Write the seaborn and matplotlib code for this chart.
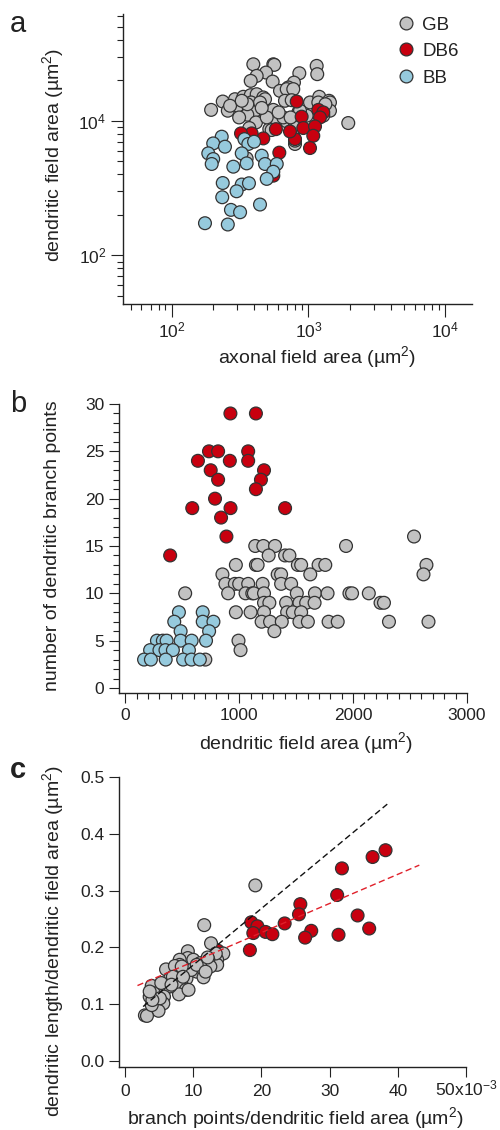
import numpy as np
import pandas as pd
import matplotlib
matplotlib.use("Agg")
import matplotlib.pyplot as plt
import seaborn as sns
from matplotlib.ticker import LogLocator, MultipleLocator, NullFormatter, LogFormatterMathtext, FixedLocator, FixedFormatter

# ---------------- data ----------------
cell_types = ["GB", "DB6", "BB"]
colors = {"GB": "#c2c2c2", "DB6": "#c8000f", "BB": "#96cadd"}

# panel a: axonal field area vs dendritic field area (log-log)
gb_a_axon = [395, 553, 562, 1148, 1159, 857, 489, 418, 378, 547, 783, 712, 619, 693, 774, 236, 194, 257,
             304, 290, 334, 378, 391, 418, 467, 481, 380, 367, 406, 357, 311, 489, 553, 673, 754, 1026,
             1199, 1413, 1436, 1436, 842, 970, 673, 693, 553, 413, 369, 517, 538, 797, 1954, 783, 495,
             442, 357, 654, 267, 325, 353, 867, 1283, 820, 797, 455, 605, 740, 1180, 1330]
gb_a_dend = [69000, 69000, 67600, 65300, 49200, 50800, 52000, 46400, 39100, 38200, 36900, 31200, 27800,
             29500, 29500, 19300, 14500, 14100, 16700, 20900, 22700, 24000, 17600, 24800, 22200, 20900,
             18700, 14900, 14100, 12300, 11200, 12600, 14500, 19800, 20200, 18700, 22700, 19800, 18700,
             14100, 13300, 11900, 10300, 9770, 10000, 9440, 7800, 7530, 7280, 4520, 9250, 10000, 11200,
             18700, 17600, 11200, 16700, 19800, 2760, 14100, 11900, 7960, 5060, 15500, 13300, 11200,
             18700, 17600]
db6_a_axon = [820, 891, 1180, 1283, 1213, 916, 1116, 1084, 1026, 797, 732, 578, 467, 384, 321, 612, 553]
db6_a_dend = [19300, 11500, 14500, 13300, 11200, 7800, 8240, 5990, 3935, 5340, 6950, 7510, 5470, 6490,
              6490, 3360, 1530]
bb_a_axon = [232, 201, 245, 185, 201, 196, 282, 340, 363, 400, 325, 353, 455, 481, 586, 553, 495, 236,
             325, 367, 298, 234, 442, 271, 316, 175, 257]
bb_a_dend = [5800, 4610, 4120, 3280, 2700, 2280, 2080, 5340, 4520, 4890, 3280, 2330, 3030, 2280, 2280,
             1750, 1370, 1190, 1130, 1180, 897, 731, 570, 475, 438, 301, 288]

# panel b: dendritic field area vs number of branch points
gb_b_area = [2535, 1938, 1141, 1212, 1315, 1259, 1403, 1441, 971, 1147, 1162, 1515, 1544, 1697, 1756,
             2644, 853, 1338, 1368, 1624, 2618, 879, 962, 1000, 1079, 1206, 1368, 1456, 903, 526, 1056,
             1115, 1129, 1218, 1506, 1665, 1776, 1968, 1991, 2138, 1218, 1265, 1412, 1529, 1588, 1662,
             2241, 2271, 971, 1100, 1218, 1421, 1471, 1544, 1197, 1271, 1374, 1529, 1603, 1785, 1865,
             2315, 2662, 1309, 994, 1012, 703]
gb_b_bp = [16, 15, 15, 15, 15, 14, 14, 14, 13, 13, 13, 13, 13, 13, 13, 13, 12, 12, 12, 12, 12, 11, 11,
           11, 11, 11, 11, 11, 10, 10, 10, 10, 10, 10, 10, 10, 10, 10, 10, 10, 9, 9, 9, 9, 9, 9, 9, 9,
           8, 8, 8, 8, 8, 8, 7, 7, 7, 7, 7, 7, 7, 7, 7, 6, 5, 4, 3]
db6_b_area = [923, 1147, 735, 815, 1079, 638, 918, 1079, 750, 1218, 815, 1191, 1147, 788, 588, 924,
              1403, 841, 888, 394]
db6_b_bp = [29, 29, 25, 25, 25, 24, 24, 24, 23, 23, 22, 22, 21, 20, 19, 19, 19, 18, 16, 14]
bb_b_area = [471, 680, 430, 680, 774, 486, 736, 278, 330, 363, 486, 583, 709, 218, 300, 353, 418, 559,
             165, 225, 355, 508, 581, 655]
bb_b_bp = [8, 8, 7, 7, 7, 6, 6, 5, 5, 5, 5, 5, 5, 4, 4, 4, 4, 4, 3, 3, 3, 3, 3, 3]

# panel c: branch points / area (x1e-3) vs dendritic length / area
db6_c_bpd = [38.2, 36.3, 31.8, 31.1, 25.7, 25.5, 34.1, 23.4, 18.5, 19.4, 18.8, 20.6, 21.6, 27.3, 26.4,
             31.3, 35.8, 18.3, 13.6]
db6_c_len = [0.371, 0.359, 0.339, 0.292, 0.276, 0.258, 0.256, 0.242, 0.244, 0.237, 0.225, 0.227, 0.223,
             0.229, 0.217, 0.222, 0.233, 0.195, 0.194]
gb_c_bpd = [19.1, 11.6, 12.6, 14.4, 13.5, 13.5, 9.2, 9.2, 8.0, 8.0, 10.5, 11.3, 11.5, 10.0, 6.0, 7.3,
            6.6, 8.3, 9.0, 7.5, 8.3, 8.9, 7.9, 5.8, 6.6, 4.7, 3.9, 3.6, 4.2, 5.7, 4.5, 5.6, 4.9, 2.9,
            3.2, 13.3, 12.2, 12.5, 11.0, 9.7, 7.0, 3.9, 5.1, 12.1, 8.3, 10.5, 11.8, 5.3, 6.8, 8.5, 4.0,
            3.6, 9.3]
gb_c_len = [0.309, 0.239, 0.207, 0.189, 0.178, 0.169, 0.193, 0.181, 0.178, 0.169, 0.157, 0.163, 0.147,
            0.178, 0.161, 0.167, 0.145, 0.154, 0.145, 0.135, 0.134, 0.125, 0.117, 0.126, 0.131, 0.131,
            0.132, 0.113, 0.119, 0.113, 0.101, 0.101, 0.088, 0.080, 0.079, 0.189, 0.178, 0.166, 0.172,
            0.160, 0.148, 0.098, 0.110, 0.182, 0.166, 0.169, 0.157, 0.137, 0.134, 0.148, 0.107, 0.122,
            0.125]
# linear fits (slope, intercept) and x-extent
fit_gb = {"slope": 0.00996, "intercept": 0.0692, "x": [2.64, 38.45]}
fit_all = {"slope": 0.005133, "intercept": 0.1232, "x": [1.81, 43.15]}

c_xticks = [0, 10, 20, 30, 40, 50]
c_xticklabels = ["0", "10", "20", "30", "40", "50x10$^{-3}$"]
c_yticks = [0.0, 0.1, 0.2, 0.3, 0.4, 0.5]

# ---------------- style ----------------
sns.set_style("ticks")
plt.rcParams["font.family"] = ["Liberation Sans", "DejaVu Sans"]
plt.rcParams["mathtext.fontset"] = "custom"
plt.rcParams["mathtext.rm"] = "Liberation Sans"
plt.rcParams["mathtext.it"] = "Liberation Sans:italic"
plt.rcParams["mathtext.bf"] = "Liberation Sans:bold"
plt.rcParams["mathtext.default"] = "regular"
ink = "#222222"
plt.rcParams["text.color"] = ink
plt.rcParams["axes.labelcolor"] = ink
plt.rcParams["xtick.color"] = ink
plt.rcParams["ytick.color"] = ink

FS = 12.5     # tick labels
LFS = 14      # axis labels
MS = 85
EDGE = "#333333"

fig = plt.figure(figsize=(5.0, 11.3), dpi=100)
W, H = 500.0, 1130.0


def add_axes(left, top, right, bottom):
    return fig.add_axes([left / W, 1 - bottom / H, (right - left) / W, (bottom - top) / H])


def style(ax):
    sns.despine(ax=ax)
    for s in ["left", "bottom"]:
        ax.spines[s].set_linewidth(1.0)
        ax.spines[s].set_color(ink)
    ax.tick_params(which="major", direction="out", length=7.5, width=0.8, labelsize=FS, pad=3)
    ax.tick_params(which="minor", direction="out", length=4.3, width=0.8)


def frame(pairs):
    rows = []
    for name, xs, ys in pairs:
        rows.append(pd.DataFrame({"x": xs, "y": ys, "cell": name}))
    return pd.concat(rows, ignore_index=True)


# ---------------- panel a ----------------
axa = add_axes(123, 14, 472, 304)
dfa = frame([("GB", gb_a_axon, gb_a_dend), ("DB6", db6_a_axon, db6_a_dend), ("BB", bb_a_axon, bb_a_dend)])
sns.scatterplot(data=dfa, x="x", y="y", hue="cell", hue_order=cell_types, palette=colors, s=MS,
                edgecolor=EDGE, linewidth=0.9, ax=axa, legend=True, zorder=3)
axa.set_xscale("log")
axa.set_yscale("log")
axa.set_xlim(44, 1.57e4)
axa.set_ylim(19, 3.85e5)
axa.xaxis.set_major_locator(LogLocator(base=10, numticks=10))
axa.xaxis.set_minor_locator(LogLocator(base=10, subs=np.arange(2, 10), numticks=20))
axa.xaxis.set_major_formatter(LogFormatterMathtext())
axa.xaxis.set_minor_formatter(NullFormatter())
axa.yaxis.set_major_locator(LogLocator(base=100, numticks=10))
axa.yaxis.set_minor_locator(LogLocator(base=100, subs=[4, 9, 16, 25, 36, 49, 64, 81], numticks=20))
axa.yaxis.set_major_formatter(LogFormatterMathtext(base=10))
axa.yaxis.set_minor_formatter(NullFormatter())
style(axa)
axa.tick_params(which="major", length=9)
axa.set_xlabel("axonal field area (µm$^2$)", fontsize=LFS)
axa.set_ylabel("dendritic field area (µm$^2$)", fontsize=LFS)
axa.xaxis.set_label_coords(0.556, -0.183)
axa.yaxis.set_label_coords(-0.20, 0.514)
axa.xaxis.label.set_va("center")
axa.yaxis.label.set_va("center")
h, l = axa.get_legend_handles_labels()
axa.legend(h, l, loc="upper left", bbox_to_anchor=(0.756, 1.024), frameon=False, fontsize=13.5,
           borderpad=0, handlelength=1.0, handletextpad=0.4, labelspacing=0.5, markerscale=1.0)

# ---------------- panel b ----------------
axb = add_axes(119, 404, 467, 693)
dfb = frame([("GB", gb_b_area, gb_b_bp), ("DB6", db6_b_area, db6_b_bp), ("BB", bb_b_area, bb_b_bp)])
sns.scatterplot(data=dfb, x="x", y="y", hue="cell", hue_order=cell_types, palette=colors, s=MS,
                edgecolor=EDGE, linewidth=0.9, ax=axb, legend=False, zorder=3)
axb.set_xlim(-55, 3000)
axb.set_ylim(-0.53, 30)
axb.xaxis.set_major_locator(MultipleLocator(1000))
axb.xaxis.set_minor_locator(MultipleLocator(100))
axb.yaxis.set_major_locator(MultipleLocator(5))
axb.yaxis.set_minor_locator(MultipleLocator(1))
style(axb)
axb.set_xlabel("dendritic field area (µm$^2$)", fontsize=LFS)
axb.set_ylabel("number of dendritic branch points", fontsize=LFS)
axb.xaxis.set_label_coords(0.537, -0.173)
axb.yaxis.set_label_coords(-0.19, 0.509)
axb.xaxis.label.set_va("center")
axb.yaxis.label.set_va("center")

# ---------------- panel c ----------------
axc = add_axes(119, 777, 466, 1067)
dfc = frame([("DB6", db6_c_bpd, db6_c_len), ("GB", gb_c_bpd, gb_c_len)])
sns.scatterplot(data=dfc, x="x", y="y", hue="cell", hue_order=["GB", "DB6"], palette=colors, s=MS,
                edgecolor=EDGE, linewidth=0.9, ax=axc, legend=False, zorder=3)
for fit, col in [(fit_gb, "#111111"), (fit_all, "#e0202a")]:
    xs = np.array(fit["x"])
    sns.lineplot(x=xs, y=fit["slope"] * xs + fit["intercept"], color=col, linewidth=1.0,
                 linestyle=(0, (4.5, 2.5)), ax=axc, zorder=4)
axc.set_xlim(-0.9, 50)
axc.set_ylim(-0.011, 0.5)
axc.xaxis.set_major_locator(FixedLocator(c_xticks))
axc.xaxis.set_major_formatter(FixedFormatter(c_xticklabels))
axc.yaxis.set_major_locator(FixedLocator(c_yticks))
axc.yaxis.set_major_formatter(FixedFormatter([f"{v:.1f}" for v in c_yticks]))
style(axc)
axc.tick_params(axis="x", pad=13.2)
for t in axc.get_xticklabels():
    t.set_verticalalignment("baseline")
axc.set_xlabel("branch points/dendritic field area (µm$^2$)", fontsize=LFS)
axc.set_ylabel("dendritic length/dendritic field area (µm$^2$)", fontsize=LFS)
axc.xaxis.set_label_coords(0.509, -0.176)
axc.yaxis.set_label_coords(-0.19, 0.434)
axc.xaxis.label.set_va("center")
axc.yaxis.label.set_va("center")

# panel letters
fig.text(10 / W, 1 - 32 / H, "a", fontsize=21, va="baseline", ha="left")
fig.text(10 / W, 1 - 412 / H, "b", fontsize=21, va="baseline", ha="left")
fig.text(10 / W, 1 - 778 / H, "c", fontsize=21, va="baseline", ha="left", fontweight="bold")

fig.savefig("out.png", dpi=100)
